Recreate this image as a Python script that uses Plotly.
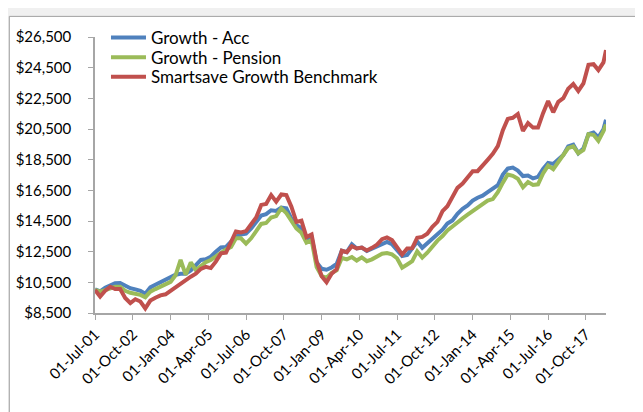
import pandas as pd
import plotly.graph_objects as go

# bimonthly samples Jul-2001 .. May-2018 plus final Jun-2018
dates = list(pd.date_range("2001-07-01", periods=102, freq="2MS")) + [pd.Timestamp("2018-06-01")]

growth_acc = [
    10050, 9910, 10140, 10290, 10440, 10460, 10290, 10120, 10040, 9950,
    9760, 10170, 10340, 10510, 10720, 10850, 11000, 11060, 11060, 11280,
    11600, 11960, 12000, 12170, 12490, 12770, 12810, 13200, 13480, 13620,
    13670, 14010, 14480, 14860, 14950, 15200, 15160, 15380, 15330, 14650,
    14220, 14050, 13350, 13450, 11800, 11380, 11320, 11470, 11700, 12560,
    12470, 12980, 12710, 12770, 12540, 12690, 12860, 13030, 13140, 12990,
    12620, 12220, 12280, 12710, 13160, 12750, 13030, 13290, 13580, 13930,
    14330, 14540, 14970, 15290, 15510, 15830, 16020, 16150, 16380, 16620,
    16830, 17530, 17920, 17980, 17790, 17430, 17470, 17280, 17380, 17900,
    18280, 18220, 18560, 18810, 19370, 19480, 18920, 19240, 20160, 20270,
    19950, 20480, 21100,
]

growth_pension = [
    10000, 9890, 9990, 10120, 10210, 10210, 9950, 9820, 9760, 9680,
    9530, 9890, 10060, 10210, 10340, 10530, 10960, 11960, 11000, 11800,
    11300, 11600, 11810, 11960, 12190, 12450, 12640, 12810, 13370, 13370,
    13030, 13370, 13840, 14310, 14370, 14730, 14820, 15330, 15010, 14480,
    14010, 13730, 13090, 13250, 11500, 10900, 10800, 11110, 11280, 12090,
    12000, 12150, 11920, 12130, 11880, 12000, 12200, 12370, 12410, 12320,
    12070, 11450, 11660, 11880, 12520, 12110, 12430, 12840, 13220, 13520,
    13880, 14140, 14440, 14670, 14910, 15160, 15400, 15610, 15830, 15930,
    16380, 17000, 17530, 17450, 17260, 16700, 17040, 16850, 16890, 17600,
    18110, 17880, 18350, 18730, 19260, 19370, 18920, 19130, 20160, 20120,
    19730, 20350, 20800,
]

benchmark = [
    10000, 9570, 9950, 10210, 10060, 10060, 9480, 9150, 9400, 9250,
    8800, 9310, 9500, 9650, 9720, 9950, 10190, 10420, 10700, 10870,
    11060, 11380, 11510, 11430, 11850, 12390, 12430, 13200, 13820, 13750,
    13840, 14290, 14730, 15550, 15610, 16190, 15760, 16230, 16190, 15440,
    14440, 14520, 13450, 13620, 11870, 10900, 10500, 11060, 11360, 12560,
    12470, 12860, 12710, 12770, 12580, 12750, 12960, 13310, 13430, 13260,
    12770, 12320, 12710, 12730, 13410, 13460, 13670, 14120, 14440, 15140,
    15460, 16040, 16660, 16940, 17360, 17750, 17750, 18170, 18490, 18880,
    19390, 20420, 21160, 21230, 21480, 20370, 20890, 20590, 20590, 21530,
    22320, 21590, 22270, 22510, 23130, 23430, 22980, 23470, 24690, 24730,
    24340, 24840, 25650,
]

series_names = ["Growth - Acc", "Growth - Pension", "Smartsave Growth Benchmark"]
series_colors = ["#4F81BD", "#9BBB59", "#C0504D"]

tick_dates = ["2001-07-01", "2002-10-01", "2004-01-01", "2005-04-01", "2006-07-01",
              "2007-10-01", "2009-01-01", "2010-04-01", "2011-07-01", "2012-10-01",
              "2014-01-01", "2015-04-01", "2016-07-01", "2017-10-01"]
tick_labels = ["01-Jul-01", "01-Oct-02", "01-Jan-04", "01-Apr-05", "01-Jul-06",
               "01-Oct-07", "01-Jan-09", "01-Apr-10", "01-Jul-11", "01-Oct-12",
               "01-Jan-14", "01-Apr-15", "01-Jul-16", "01-Oct-17"]

FONT = "Lato"
legend_ids = ["legend", "legend2", "legend3"]
legend_y = [1.0616, 0.9904, 0.9192]

fig = go.Figure()
for vals, name, color, lid in zip([growth_acc, growth_pension, benchmark],
                                  series_names, series_colors, legend_ids):
    fig.add_trace(go.Scatter(x=dates, y=vals, mode="lines", name=name, legend=lid,
                             line=dict(color=color, width=4)))

legend_common = dict(x=0.0215, xanchor="left", yanchor="top", itemwidth=35,
                     bgcolor="rgba(0,0,0,0)", font=dict(size=17, family=FONT, color="black"))

fig.update_layout(
    width=643, height=412,
    margin=dict(l=87, r=45, t=24, b=107),
    paper_bgcolor="#F0F0F0", plot_bgcolor="white",
    font=dict(family=FONT, color="black"),
    showlegend=True,
    legend=dict(y=legend_y[0], **legend_common),
    legend2=dict(y=legend_y[1], **legend_common),
    legend3=dict(y=legend_y[2], **legend_common),
    shapes=[dict(type="rect", xref="paper", yref="paper",
                 x0=-0.1677, x1=1.3, y0=-0.6, y1=1.0747,
                 fillcolor="white", line=dict(color="#A0A0A0", width=1), layer="below")],
)
fig.update_xaxes(type="date", range=["2001-07-01", "2018-06-01"],
                 tickvals=tick_dates, ticktext=tick_labels, tickangle=-45,
                 showline=True, linecolor="#A6A6A6", linewidth=1.5,
                 ticks="outside", ticklen=5, tickcolor="#A6A6A6",
                 showgrid=False, zeroline=False, tickfont=dict(size=15),
                 automargin=False)
fig.update_yaxes(range=[8500, 26500], tick0=8500, dtick=2000,
                 tickprefix="$", tickformat=",d",
                 showline=True, linecolor="#A6A6A6", linewidth=1.5,
                 ticks="outside", ticklen=5, tickcolor="#A6A6A6",
                 showgrid=False, zeroline=False, tickfont=dict(size=15),
                 ticklabelstandoff=14, automargin=False)

fig.write_html("out.html")
